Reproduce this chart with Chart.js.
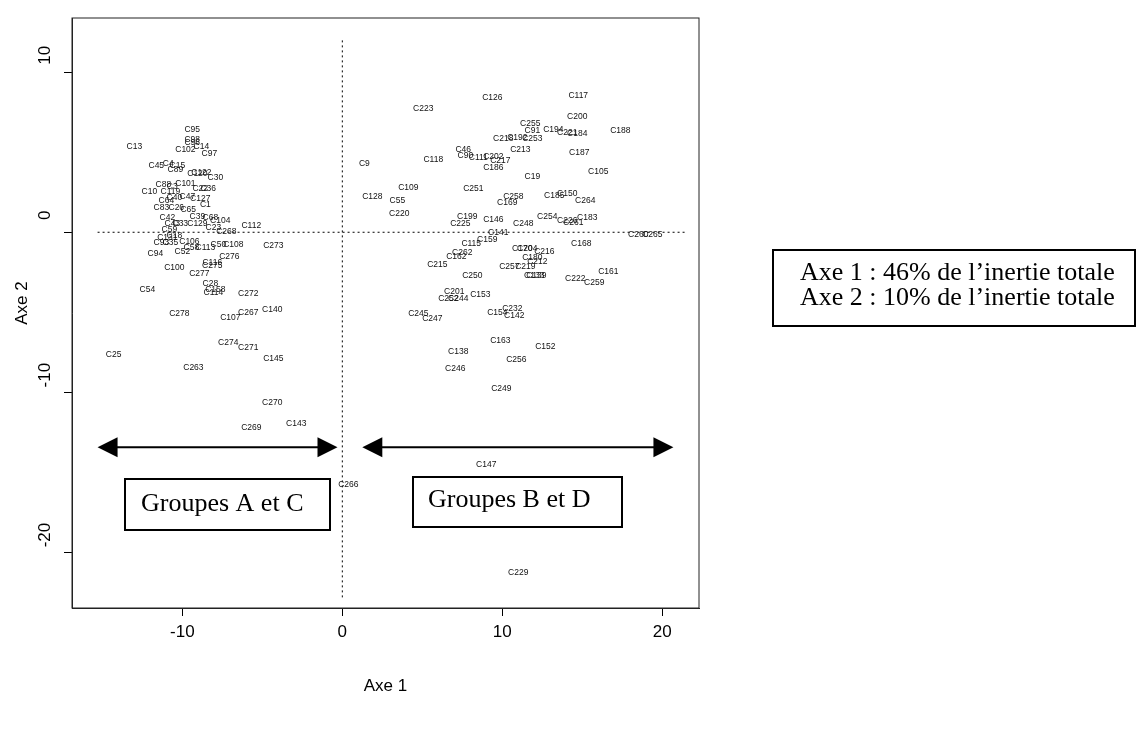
<!DOCTYPE html>
<html>
<head>
<meta charset="utf-8">
<script src="https://cdn.jsdelivr.net/npm/chart.js@4.4.1/dist/chart.umd.min.js"></script>
<style>
  html, body { margin: 0; padding: 0; background: #fff; }
</style>
</head>
<body>
<canvas id="acp" width="1137" height="731"></canvas>
<script>
const labels = [
  'C95','C98','C96','C14','C102','C97','C13','C45','C4','C15',
  'C89','C120','C122','C30','C88','C3','C101','C22','C36','C10',
  'C119','C47','C40','C127','C1','C64','C83','C26','C65','C39',
  'C68','C104','C42','C43','C33','C129','C23','C59','C268','C112',
  'C131','C18','C106','C93','C35','C52','C58','C113','C50','C108',
  'C94','C276','C273','C116','C275','C100','C277','C28','C158','C114',
  'C54','C272','C278','C107','C267','C140','C274','C271','C145','C25',
  'C263','C270','C269','C143','C266',
  'C126','C223','C117','C255','C91','C218','C192','C253','C200','C194',
  'C221','C184','C188','C213','C46','C90','C111','C202','C217','C186',
  'C187','C9','C118','C19','C105','C109','C251','C128','C55','C258',
  'C169','C185','C150','C264','C220','C199','C225','C146','C248','C254',
  'C226','C261','C183','C141','C260','C265','C159','C115','C168','C262',
  'C162','C170','C204','C216','C180','C212','C215','C257','C219','C133',
  'C139','C222','C259','C161','C250','C201','C252','C244','C153','C245',
  'C247','C154','C232','C142','C163','C152','C138','C256','C246','C249',
  'C147','C229'
]
const axe1 = [
  -9.38,-9.38,-9.38,-8.81,-9.81,-8.31,-13.0,-11.63,-10.88,-10.31,
  -10.44,-9.06,-8.81,-7.94,-11.19,-10.63,-9.81,-8.88,-8.38,-12.06,
  -10.75,-9.69,-10.5,-8.88,-8.56,-11.0,-11.31,-10.38,-9.63,-9.06,
  -8.25,-7.63,-10.94,-10.63,-10.13,-9.06,-8.06,-10.81,-7.25,-5.69,
  -10.94,-10.5,-9.56,-11.31,-10.75,-10.0,-9.44,-8.56,-7.75,-6.81,
  -11.69,-7.06,-4.31,-8.13,-8.13,-10.5,-8.94,-8.25,-7.94,-8.06,
  -12.19,-5.88,-10.19,-7.0,-5.88,-4.38,-7.13,-5.88,-4.31,-14.3,
  -9.31,-4.38,-5.69,-2.88,0.38,
  9.38,5.06,14.75,11.75,11.88,10.06,10.94,11.88,14.69,13.19,
  14.06,14.69,17.38,11.13,7.56,7.69,8.5,9.44,9.88,9.44,
  14.81,1.38,5.69,11.88,16.0,4.13,8.19,1.88,3.44,10.69,
  10.31,13.25,14.06,15.19,3.56,7.81,7.38,9.44,11.31,12.81,
  14.06,14.44,15.31,9.75,18.5,19.38,9.06,8.06,14.94,7.5,
  7.13,11.25,11.56,12.63,11.88,12.19,5.94,10.44,11.44,12.0,
  12.13,14.56,15.75,16.63,8.13,7.0,6.63,7.25,8.63,4.75,
  5.63,9.69,10.63,10.75,9.88,12.69,7.25,10.88,7.06,9.94,
  9.0,11.0
]
const axe2 = [
  6.44,5.81,5.63,5.38,5.19,4.94,5.38,4.19,4.31,4.19,
  3.94,3.69,3.75,3.44,3.0,2.88,3.06,2.75,2.75,2.56,
  2.56,2.25,2.19,2.13,1.75,2.0,1.56,1.56,1.44,1.0,
  0.94,0.75,0.94,0.56,0.56,0.56,0.31,0.19,0.06,0.44,
  -0.31,-0.19,-0.56,-0.63,-0.63,-1.19,-0.94,-0.94,-0.75,-0.75,
  -1.31,-1.5,-0.81,-1.88,-2.06,-2.19,-2.56,-3.19,-3.56,-3.75,
  -3.56,-3.81,-5.06,-5.31,-5.0,-4.81,-6.88,-7.19,-7.88,-7.63,
  -8.44,-10.63,-12.25,-12.0,-15.81,
  8.44,7.75,8.56,6.81,6.38,5.88,5.94,5.88,7.25,6.44,
  6.25,6.19,6.38,5.19,5.19,4.81,4.69,4.75,4.5,4.06,
  5.0,4.31,4.56,3.5,3.81,2.81,2.75,2.25,2.0,2.25,
  1.88,2.31,2.44,2.0,1.19,1.0,0.56,0.81,0.56,1.0,
  0.75,0.63,0.94,0.0,-0.13,-0.13,-0.44,-0.69,-0.69,-1.25,
  -1.5,-1.0,-1.0,-1.19,-1.56,-1.81,-2.0,-2.13,-2.13,-2.69,
  -2.69,-2.88,-3.13,-2.44,-2.69,-3.69,-4.13,-4.13,-3.88,-5.06,
  -5.38,-5.0,-4.75,-5.19,-6.75,-7.13,-7.44,-7.94,-8.5,-9.81,
  -14.56,-21.31
]
const xTicks = [-10, 0, 10, 20]
const yTicks = [-20, -10, 0, 10]
const xRange = [-16.9, 22.3]
const yRange = [-23.5, 13.4]
// pointillés sur les axes
const hLine = [-15.3, 21.5]
const vLine = [-23, 12]
// flèches des groupes
const arrowA = [-15.3, -0.3]
const arrowB = [1.25, 20.7]
const arrowY = -13.45

const points = axe1.map((x, i) => ({ x: x, y: axe2[i] }))

function drawArrow(ctx, x1, x2, y) {
  ctx.save()
  ctx.strokeStyle = '#000'
  ctx.fillStyle = '#000'
  ctx.lineWidth = 2
  ctx.beginPath()
  ctx.moveTo(x1 + 10, y)
  ctx.lineTo(x2 - 10, y)
  ctx.stroke()
  ctx.beginPath()
  ctx.moveTo(x1, y); ctx.lineTo(x1 + 20, y - 10); ctx.lineTo(x1 + 20, y + 10); ctx.closePath()
  ctx.fill()
  ctx.beginPath()
  ctx.moveTo(x2, y); ctx.lineTo(x2 - 20, y - 10); ctx.lineTo(x2 - 20, y + 10); ctx.closePath()
  ctx.fill()
  ctx.restore()
}

function textBox(ctx, x, y, w, h, lines, size, lineH) {
  ctx.save()
  ctx.fillStyle = '#fff'
  ctx.fillRect(x, y, w, h)
  ctx.strokeStyle = '#000'
  ctx.lineWidth = 2
  ctx.strokeRect(x, y, w, h)
  ctx.fillStyle = '#000'
  ctx.font = size + 'px "Liberation Serif"'
  ctx.textBaseline = 'middle'
  ctx.textAlign = 'left'
  lines.forEach((t, i) => {
    ctx.fillText(t.text, x + t.dx, y + t.dy + i * lineH)
  })
  ctx.restore()
}

const decorPlugin = {
  id: 'decor',
  beforeDatasetsDraw(chart) {
    const ctx = chart.ctx
    const xs = chart.scales.x, ys = chart.scales.y
    ctx.save()
    ctx.strokeStyle = '#000'
    ctx.lineWidth = 1
    ctx.setLineDash([2, 3])
    ctx.beginPath()
    ctx.moveTo(xs.getPixelForValue(hLine[0]), ys.getPixelForValue(0))
    ctx.lineTo(xs.getPixelForValue(hLine[1]), ys.getPixelForValue(0))
    ctx.moveTo(xs.getPixelForValue(0), ys.getPixelForValue(vLine[1]))
    ctx.lineTo(xs.getPixelForValue(0), ys.getPixelForValue(vLine[0]))
    ctx.stroke()
    ctx.restore()
  },
  afterDatasetsDraw(chart) {
    const ctx = chart.ctx
    const xs = chart.scales.x, ys = chart.scales.y
    const area = chart.chartArea

    // étiquettes des individus
    const meta = chart.getDatasetMeta(0)
    ctx.save()
    ctx.font = '8.5px "Liberation Sans"'
    ctx.fillStyle = '#111'
    ctx.textAlign = 'center'
    ctx.textBaseline = 'middle'
    meta.data.forEach((pt, i) => {
      ctx.fillText(labels[i], pt.x, pt.y)
    })
    ctx.restore()

    const ay = ys.getPixelForValue(arrowY)
    drawArrow(ctx, xs.getPixelForValue(arrowA[0]), xs.getPixelForValue(arrowA[1]), ay)
    drawArrow(ctx, xs.getPixelForValue(arrowB[0]), xs.getPixelForValue(arrowB[1]), ay)

    textBox(ctx, 125, 479, 205, 51, [{ text: 'Groupes A et C', dx: 16, dy: 25 }], 26, 0)
    textBox(ctx, 413, 477, 209, 50, [{ text: 'Groupes B et D', dx: 15, dy: 23 }], 26, 0)

    // cadre
    ctx.save()
    ctx.strokeStyle = '#222'
    ctx.lineWidth = 1
    ctx.strokeRect(area.left, area.top, area.right - area.left, area.bottom - area.top)
    ctx.restore()

    // graduations verticales (décalées vers le haut comme sur l'original) et titres
    ctx.save()
    ctx.fillStyle = '#000'
    ctx.font = '17px "Liberation Sans"'
    ctx.textAlign = 'center'
    ctx.textBaseline = 'middle'
    yTicks.forEach(v => {
      ctx.save()
      ctx.translate(45, ys.getPixelForValue(v) - 17)
      ctx.rotate(-Math.PI / 2)
      ctx.fillText(String(v), 0, 0)
      ctx.restore()
    })
    ctx.save()
    ctx.translate(22, 303)
    ctx.rotate(-Math.PI / 2)
    ctx.fillText('Axe 2', 0, 0)
    ctx.restore()
    ctx.fillText('Axe 1', (area.left + area.right) / 2, 686)
    ctx.restore()

    textBox(ctx, 773, 250, 362, 76, [
      { text: 'Axe 1 : 46% de l\u2019inertie totale', dx: 27, dy: 23 },
      { text: 'Axe 2 : 10% de l\u2019inertie totale', dx: 27, dy: 23 }
    ], 26, 25)
  }
}

const ctx = document.getElementById('acp').getContext('2d')

const config = {
  type: 'scatter',
  data: {
    datasets: [
      {
        label: 'Individus',
        data: points,
        pointRadius: 0,
        pointHoverRadius: 0,
        showLine: false,
      },
    ],
  },
  options: {
    responsive: false,
    animation: false,
    devicePixelRatio: 1,
    layout: { padding: { left: 0, right: 438, top: 18, bottom: 0 } },
    plugins: {
      legend: { display: false },
      tooltip: { enabled: false },
    },
    scales: {
      x: {
        type: 'linear',
        position: 'bottom',
        min: xRange[0],
        max: xRange[1],
        afterBuildTicks: s => { s.ticks = xTicks.map(v => ({ value: v })) },
        afterFit: s => { s.height = 123 },
        grid: { drawOnChartArea: false, drawTicks: true, tickLength: 8, color: '#000' },
        border: { display: true, color: '#222' },
        ticks: {
          color: '#000',
          padding: 6,
          font: { family: 'Liberation Sans', size: 17 },
        },
      },
      y: {
        type: 'linear',
        position: 'left',
        min: yRange[0],
        max: yRange[1],
        afterBuildTicks: s => { s.ticks = yTicks.map(v => ({ value: v })) },
        afterFit: s => { s.width = 72 },
        grid: { drawOnChartArea: false, drawTicks: true, tickLength: 8, color: '#000' },
        border: { display: true, color: '#222' },
        ticks: { display: false },
      },
    },
  },
  plugins: [decorPlugin],
}

const acpChart = new Chart(ctx, config)
</script>
</body>
</html>
